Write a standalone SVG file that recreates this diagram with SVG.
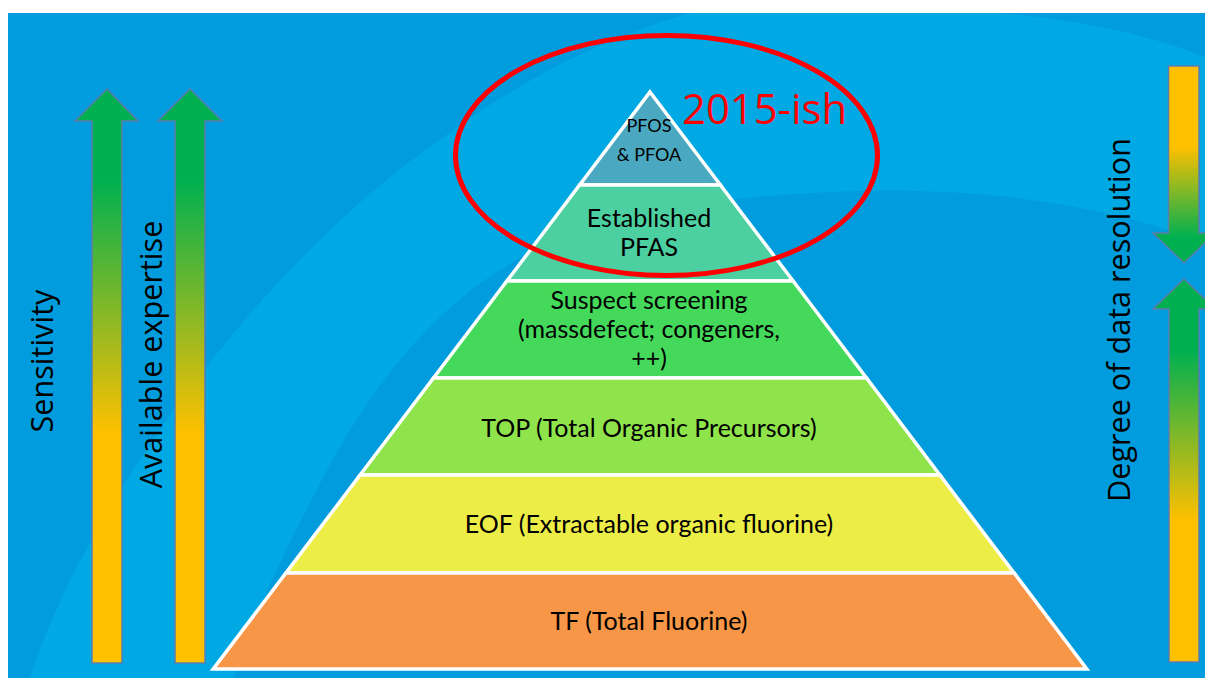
<svg xmlns="http://www.w3.org/2000/svg" width="1205" height="678" viewBox="0 0 1205 678">
  <defs>
    <linearGradient id="gLeft" x1="0" y1="0" x2="0" y2="1">
      <stop offset="0.16" stop-color="#00b050"/>
      <stop offset="0.60" stop-color="#ffc000"/>
    </linearGradient>
    <linearGradient id="gDown" x1="0" y1="0" x2="0" y2="1">
      <stop offset="0.41" stop-color="#ffc000"/>
      <stop offset="0.87" stop-color="#00b050"/>
    </linearGradient>
    <linearGradient id="gUp" x1="0" y1="0" x2="0" y2="1">
      <stop offset="0.19" stop-color="#00b050"/>
      <stop offset="0.63" stop-color="#ffc000"/>
    </linearGradient>
    <style>
      .arrow { stroke: #5a7cae; stroke-width: 1.5; stroke-linejoin: miter; }
      .tier { stroke: #ffffff; stroke-width: 3.5; stroke-linejoin: miter; }
      .lbl { font-family: Lato, "Liberation Sans", sans-serif; font-size: 25px; fill: #000; text-anchor: middle; }
      .small { font-size: 18px; }
      .side { font-family: "Open Sans", "Noto Sans", sans-serif; font-size: 30.6px; fill: #000; text-anchor: middle; }
      .note { font-family: "Open Sans", "Noto Sans", sans-serif; font-size: 41.8px; fill: #ff0000; }
    </style>
  </defs>

  <!-- white page with the blue slide background -->
  <rect x="0" y="0" width="1205" height="678" fill="#ffffff"/>
  <g id="background">
    <rect x="8" y="13" width="1197" height="665" fill="#009cdd"/>
    <path d="M30 678 C80 520 250 270 440 140 C500 95 580 45 690 13 L1000 13 C1080 20 1150 35 1205 57 L1205 244 C1170 230 1120 210 1000 196 C900 186 780 190 650 210 C520 240 420 300 327 470 C290 540 255 610 233 678 Z" fill="#00a9e4"/>
  </g>

  <!-- left arrows: sensitivity and expertise -->
  <g id="arrow-sensitivity">
    <path class="arrow" fill="url(#gLeft)" d="M107 89 L138 121 L122 121 L122 663 L92 663 L92 121 L75 121 Z"/>
  </g>
  <g id="arrow-expertise">
    <path class="arrow" fill="url(#gLeft)" d="M190 89 L222 121 L205 121 L205 663 L175 663 L175 121 L158 121 Z"/>
  </g>

  <!-- right arrows: data resolution -->
  <g id="arrow-resolution-down">
    <path class="arrow" fill="url(#gDown)" d="M1168.5 66 L1199 66 L1199 233 L1215 233 L1184 263 L1153 233 L1168.5 233 Z"/>
  </g>
  <g id="arrow-resolution-up">
    <path class="arrow" fill="url(#gUp)" d="M1184 279 L1215 309 L1199 309 L1199 662 L1169 662 L1169 309 L1153 309 Z"/>
  </g>

  <!-- side labels -->
  <g id="label-sensitivity">
    <text class="side" x="53" y="361" transform="rotate(-90 53 361)">Sensitivity</text>
  </g>
  <g id="label-expertise">
    <text class="side" x="162" y="354.5" transform="rotate(-90 162 354.5)">Available expertise</text>
  </g>
  <g id="label-resolution">
    <text class="side" x="1130" y="320" transform="rotate(-90 1130 320)">Degree of data resolution</text>
  </g>

  <!-- pyramid tiers, top to bottom -->
  <g id="tier-pfos-pfoa">
    <polygon class="tier" fill="#4aa9c1" points="650,92 720.4,185 579.6,185"/>
    <text class="lbl small" x="649" y="132">PFOS</text>
    <text class="lbl small" x="649" y="161">&amp; PFOA</text>
  </g>
  <g id="tier-established">
    <polygon class="tier" fill="#4dd0a1" points="579.6,185 720.4,185 793.1,281 506.9,281"/>
    <text class="lbl" x="649" y="227">Established</text>
    <text class="lbl" x="649" y="256">PFAS</text>
  </g>
  <g id="tier-suspect">
    <polygon class="tier" fill="#45d95b" points="506.9,281 793.1,281 866.5,378 433.5,378"/>
    <text class="lbl" x="649" y="309">Suspect screening</text>
    <text class="lbl" x="649" y="338">(massdefect; congeners,</text>
    <text class="lbl" x="649" y="367">++)</text>
  </g>
  <g id="tier-top">
    <polygon class="tier" fill="#8fe34b" points="433.5,378 866.5,378 939.9,475 360.1,475"/>
    <text class="lbl" x="649" y="437">TOP (Total Organic Precursors)</text>
  </g>
  <g id="tier-eof">
    <polygon class="tier" fill="#eded48" points="360.1,475 939.9,475 1014.1,573 285.9,573"/>
    <text class="lbl" x="649" y="533">EOF (Extractable organic fluorine)</text>
  </g>
  <g id="tier-tf">
    <polygon class="tier" fill="#f79646" points="285.9,573 1014.1,573 1086.8,669 213.2,669"/>
    <text class="lbl" x="649" y="630">TF (Total Fluorine)</text>
  </g>

  <!-- highlight ring with year note -->
  <g id="highlight">
    <ellipse cx="666.5" cy="155.5" rx="211" ry="120" fill="none" stroke="#ff0000" stroke-width="5"/>
    <text class="note" x="682" y="124">2015-ish</text>
  </g>
</svg>
